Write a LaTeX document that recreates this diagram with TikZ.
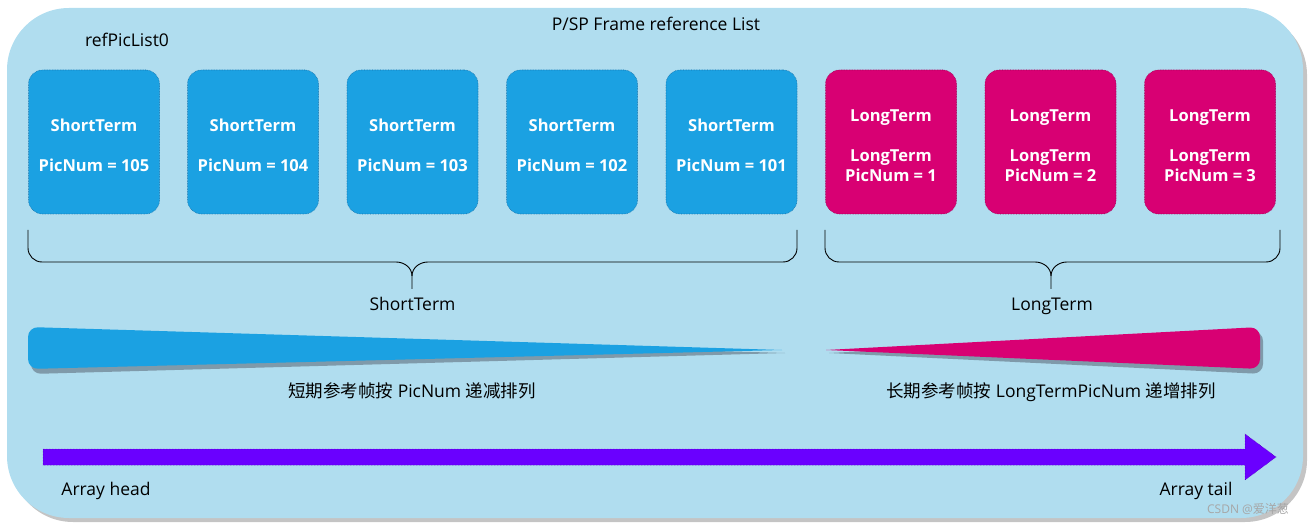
\documentclass[tikz,border=0pt]{standalone}
\usepackage{fontspec}
\setmainfont{Open Sans}
\newfontfamily\cjk{Noto Sans CJK SC}
\usetikzlibrary{calc}
\definecolor{bgblue}{HTML}{B0DDEF}
\definecolor{stblue}{HTML}{1BA1E2}
\definecolor{stborder}{HTML}{1570A8}
\definecolor{ltpink}{HTML}{D80073}
\definecolor{ltborder}{HTML}{9A0052}
\definecolor{arrowpurple}{HTML}{6A00FF}
\definecolor{shadowgray}{HTML}{7F9AAA}
\definecolor{outergray}{HTML}{C4C4C4}
\tikzset{
  picbox/.style={rounded corners=14pt, minimum width=131pt, minimum height=144pt,
    densely dotted, line width=0.6pt, inner sep=0pt},
  boxtext/.style={text=white, font=\fontsize{16.5}{20}\selectfont\bfseries, align=center, inner sep=0pt},
  stbox/.style={picbox, fill=stblue, draw=stborder},
  ltbox/.style={picbox, fill=ltpink, draw=ltborder},
  lbl/.style={font=\fontsize{17.5}{21}\selectfont, text=black, inner sep=0pt, text height=12.5pt, text depth=4pt, yshift=-2.5pt},
  bracestyle/.style={line width=0.9pt, black},
}
\begin{document}
\begin{tikzpicture}[x=1pt,y=-1pt]
\useasboundingbox (0,0) rectangle (1313,526);
% outer background with shadow
\fill[outergray, rounded corners=62pt] (11,13) rectangle (1307,522);
\fill[bgblue, rounded corners=62pt] (7,8) rectangle (1303,518);
\node[lbl] (title) at (656,24) {P/SP Frame reference List};
\node[lbl] (list) at (127,40) {refPicList0};
% short term boxes
\node[stbox] (s1) at (94,142) {};
\node[stbox] (s2) at (253,142) {};
\node[stbox] (s3) at (412.5,142) {};
\node[stbox] (s4) at (572,142) {};
\node[stbox] (s5) at (731.5,142) {};
\foreach \b/\n in {s1/105, s2/104, s3/103, s4/102, s5/101}
  \node[boxtext] (\b t) at ($(\b.center)+(0,3)$) {ShortTerm\\[20pt]PicNum = \n};
% long term boxes
\node[ltbox] (l1) at (891,142) {};
\node[ltbox] (l2) at (1050.5,142) {};
\node[ltbox] (l3) at (1210,142) {};
\foreach \b/\n in {l1/1, l2/2, l3/3}
  \node[boxtext] (\b t) at ($(\b.center)+(0,4)$) {LongTerm\\[20pt]LongTerm\\PicNum = \n};
% braces
\coordinate (sb1) at (28,230);
\coordinate (sb2) at (797,230);
\coordinate (sbt) at (412,289);
\coordinate (lb1) at (825,230);
\coordinate (lb2) at (1280,230);
\coordinate (lbt) at (1051,289);
\draw[bracestyle] (sb1) -- ++(0,18) to[out=-90,in=180] ++(14,14) -- ($(sbt)+(-16,-27)$)
  to[out=0,in=90] ($(sbt)+(0,-13)$) -- (sbt);
\draw[bracestyle] (sb2) -- ++(0,18) to[out=-90,in=0] ++(-14,14) -- ($(sbt)+(16,-27)$)
  to[out=180,in=90] ($(sbt)+(0,-13)$);
\draw[bracestyle] (lb1) -- ++(0,18) to[out=-90,in=180] ++(14,14) -- ($(lbt)+(-16,-27)$)
  to[out=0,in=90] ($(lbt)+(0,-13)$) -- (lbt);
\draw[bracestyle] (lb2) -- ++(0,18) to[out=-90,in=0] ++(-14,14) -- ($(lbt)+(16,-27)$)
  to[out=180,in=90] ($(lbt)+(0,-13)$);
\node[lbl] (stl) at (412.5,304) {ShortTerm};
\node[lbl] (ltl) at (1052,304) {LongTerm};
% wedges
\fill[shadowgray] (785,353) [rounded corners=10pt] -- (31,374) -- (31,331) [sharp corners] -- cycle;
\fill[stblue] (782,350) [rounded corners=10pt] -- (28,369) -- (28,327) [sharp corners] -- cycle;
\fill[shadowgray] (829,353) [rounded corners=10pt] -- (1263,331) -- (1263,374) [sharp corners] -- cycle;
\fill[ltpink] (826,350) [rounded corners=10pt] -- (1260,327) -- (1260,369) [sharp corners] -- cycle;
\node[lbl] (stt) at (412,391) {{\cjk 短期参考帧按} PicNum {\cjk 递减排列}};
\node[lbl] (ltt) at (1051,391) {{\cjk 长期参考帧按} LongTermPicNum {\cjk 递增排列}};
% array arrow
\coordinate (ah) at (43,457);
\coordinate (at) at (1276,457);
\fill[arrowpurple, draw=arrowpurple!70!black, densely dotted, line width=0.5pt]
  (43,449) -- (1245,449) -- (1245,434) -- (1276,457) -- (1245,480) -- (1245,465) -- (43,465) -- cycle;
\node[lbl] (head) at (106,489) {Array head};
\node[lbl] (tail) at (1196,489) {Array tail};
\node[font=\fontsize{12}{14}\selectfont, text=gray!70, inner sep=0pt] (wm) at (1248,509) {CSDN @{\cjk 爱洋葱}};
\end{tikzpicture}
\end{document}
